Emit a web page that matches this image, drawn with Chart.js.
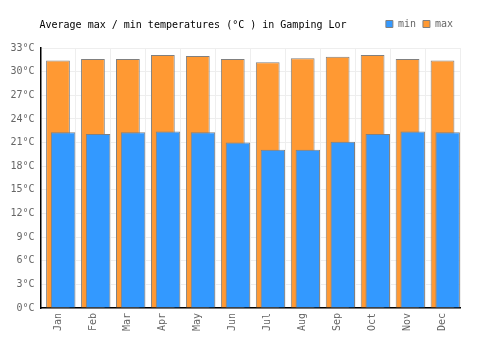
<!DOCTYPE html>
<html lang="en">

<head>
    <meta charset="UTF-8">
    <title>Gamping Lor temperatures</title>
    <script src="https://cdn.jsdelivr.net/npm/chart.js"></script>
    <style>
        html, body { margin: 0; padding: 0; background: #fff; }
        #wrap { width: 500px; height: 350px; }
    </style>
</head>

<body>
    <div id="wrap"><canvas id="tempChart" width="500" height="350"></canvas></div>
    <script>
        const months = ["Jan", "Feb", "Mar", "Apr", "May", "Jun", "Jul", "Aug", "Sep", "Oct", "Nov", "Dec"];
        const minTemps = [22.3, 22.1, 22.3, 22.4, 22.3, 21.0, 20.1, 20.1, 21.1, 22.1, 22.4, 22.3];
        const maxTemps = [31.4, 31.6, 31.6, 32.1, 32.0, 31.6, 31.2, 31.7, 31.9, 32.1, 31.6, 31.4];
        const yTicks = [0, 3, 6, 9, 12, 15, 18, 21, 24, 27, 30, 33];
        const chartTitle = "Average max / min temperatures (°C ) in Gamping Lor";

        const monoFont = { family: "'DejaVu Sans Mono', monospace", size: 10 };
        const minShift = 0.147; // blue bars sit a bit right of the category centre

        // title sits on the same line as the legend, so draw it by hand
        const titlePlugin = {
            id: "sideTitle",
            beforeInit(chart) {
                // leave more room under the legend
                const fit = chart.legend.fit;
                chart.legend.fit = function () {
                    fit.call(this);
                    this.height += 9;
                };
            },
            afterDraw(chart) {
                const c = chart.ctx;
                c.save();
                c.font = "10px 'DejaVu Sans Mono', monospace";
                c.fillStyle = "#000";
                c.textBaseline = "alphabetic";
                c.fillText(chartTitle, 39.5, 28);
                c.restore();
            }
        };

        const ctx = document.getElementById("tempChart").getContext("2d");
        const tempChart = new Chart(ctx, {
            type: "bar",
            data: {
                labels: months,
                datasets: [
                    {
                        label: "min",
                        data: minTemps.map((v, i) => ({ x: i, y: v })),
                        xAxisID: "x2",
                        backgroundColor: "#3399ff",
                        borderColor: "#808080",
                        borderWidth: 1,
                        grouped: false,
                        barPercentage: 0.7,
                        categoryPercentage: 1
                    },
                    {
                        label: "max",
                        data: maxTemps,
                        xAxisID: "x",
                        backgroundColor: "#ff9933",
                        borderColor: "#808080",
                        borderWidth: 1,
                        grouped: false,
                        barPercentage: 0.68,
                        categoryPercentage: 1
                    }
                ]
            },
            options: {
                responsive: false,
                animation: false,
                layout: { padding: { left: 0, right: 40, top: 12, bottom: 0 } },
                plugins: {
                    title: { display: false },
                    tooltip: { enabled: false },
                    legend: {
                        position: "top",
                        align: "end",
                        labels: {
                            boxWidth: 7,
                            boxHeight: 7,
                            padding: 7,
                            color: "#666",
                            font: monoFont
                        }
                    }
                },
                scales: {
                    x: {
                        type: "category",
                        offset: true,
                        grid: { offset: true, color: "#eeeeee", drawTicks: false },
                        border: { color: "#000", width: 1.5 },
                        ticks: { color: "#666", font: monoFont, maxRotation: 90, minRotation: 90, padding: 5 },
                        afterFit: s => { s.height = 42; }
                    },
                    x2: {
                        type: "linear",
                        display: false,
                        offset: false,
                        min: -0.5 - minShift,
                        max: months.length - 0.5 - minShift
                    },
                    y: {
                        min: 0,
                        max: 33,
                        afterBuildTicks: s => { s.ticks = yTicks.map(v => ({ value: v })); },
                        grid: { color: "#eeeeee", drawTicks: false },
                        border: { color: "#000", width: 1.5 },
                        ticks: { color: "#666", font: monoFont, padding: 6, callback: v => v + "°C" },
                        afterFit: s => { s.width = 40.5; }
                    }
                }
            },
            plugins: [titlePlugin]
        });
    </script>
</body>

</html>
